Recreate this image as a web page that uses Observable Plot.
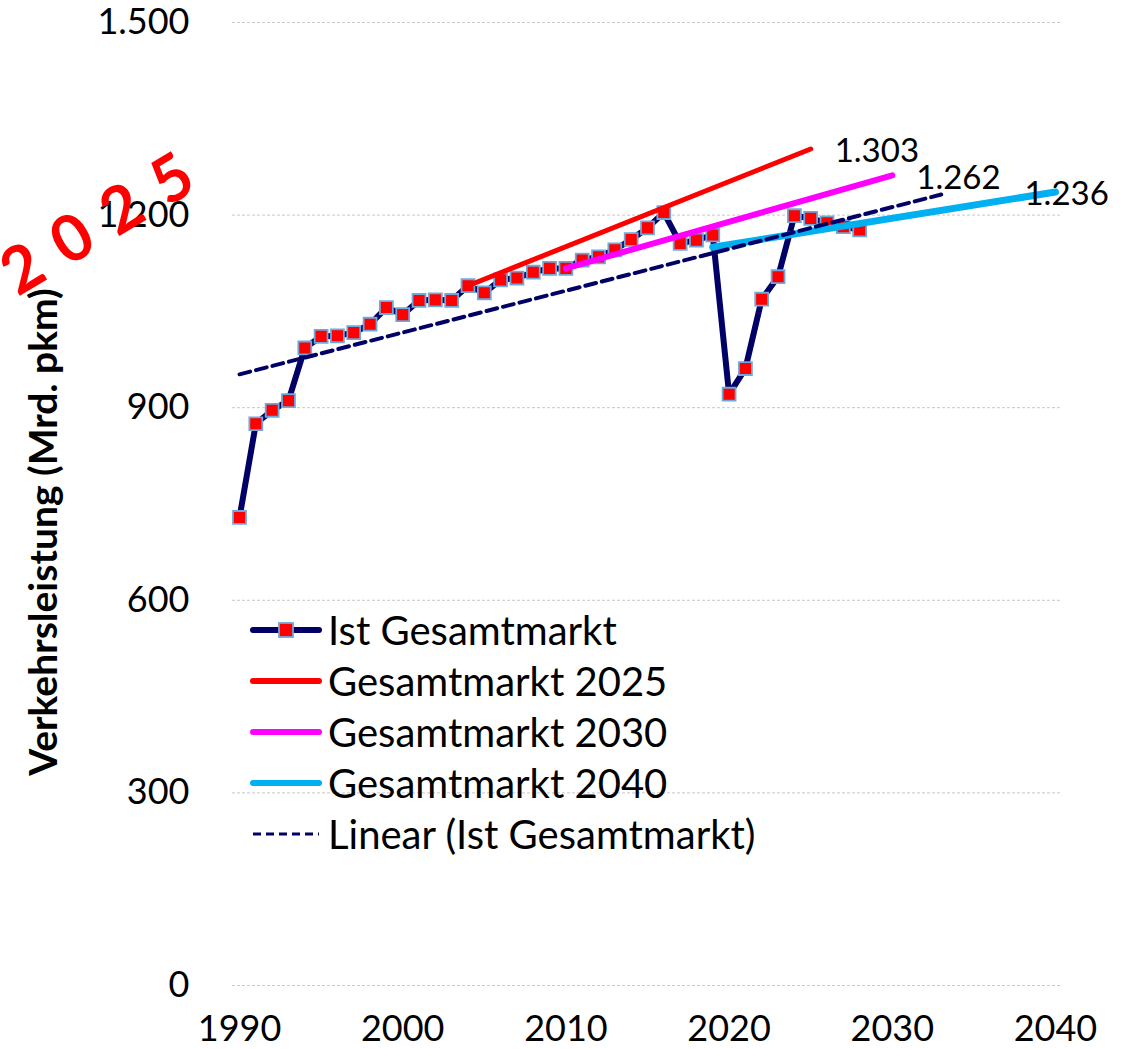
<!DOCTYPE html>
<html><head><meta charset="utf-8">
<script src="https://cdn.jsdelivr.net/npm/d3@7"></script>
<script src="https://cdn.jsdelivr.net/npm/@observablehq/plot@0.6"></script>
<style>
html,body{margin:0;padding:0;background:#fff;}
#wrap{position:relative;width:1138px;height:1049px;font-family:Lato,"Open Sans",sans-serif;color:#000;overflow:hidden;}
#wrap > svg{position:absolute;left:0;top:0;}
#ytitle{position:absolute;left:42px;top:532px;transform:translate(-50%,-50%) rotate(-90deg);white-space:nowrap;font-weight:700;font-size:39px;}
#stamp{position:absolute;left:96px;top:222px;transform:translate(-50%,-50%) rotate(-31deg);white-space:nowrap;font-weight:700;font-size:64px;color:#ff0000;letter-spacing:21px;text-indent:21px;line-height:1;}
#legend{position:absolute;left:250px;top:604px;}
.lrow{display:flex;align-items:center;height:51px;font-size:40px;white-space:nowrap;}
.lrow svg{display:block;margin-right:6px;}
</style></head><body><div id="wrap"></div>
<script>
// ---- data ----
const years = [1990,1991,1992,1993,1994,1995,1996,1997,1998,1999,2000,2001,2002,2003,2004,2005,2006,2007,2008,2009,2010,2011,2012,2013,2014,2015,2016,2017,2018,2019,2020,2021,2022,2023,2024,2025,2026,2027,2028];
const istValues = [729,875,896,911,993,1011,1012,1017,1030,1056,1045,1067,1068,1067,1090,1079,1099,1102,1111,1117,1117,1130,1135,1146,1162,1180,1204,1156,1161,1169,921,961,1069,1104,1199,1195,1188,1182,1177];
const forecast2025Years = [2004, 2025];
const forecast2025Values = [1090, 1303];
const forecast2030Years = [2010, 2030];
const forecast2030Values = [1117, 1262];
const forecast2040Years = [2019, 2040];
const forecast2040Values = [1150, 1236];
const trendYears = [1990, 2033];
const trendValues = [952, 1232];
const xTicks = [1990, 2000, 2010, 2020, 2030, 2040];
const yTicks = [0, 300, 600, 900, 1200, 1500];
const legendLabels = ["Ist Gesamtmarkt", "Gesamtmarkt 2025", "Gesamtmarkt 2030", "Gesamtmarkt 2040", "Linear (Ist Gesamtmarkt)"];
const yTitle = "Verkehrsleistung (Mrd. pkm)";
const stampText = "2025";

// ---- helpers ----
const de = d3.formatLocale({decimal: ",", thousands: ".", grouping: [3], currency: ["", " €"]});
const fmt = de.format(",");
const zip = (xs, ys) => xs.map((x, i) => ({x, y: ys[i]}));
const ist = zip(years, istValues);
const f25 = zip(forecast2025Years, forecast2025Values);
const f30 = zip(forecast2030Years, forecast2030Values);
const f40 = zip(forecast2040Years, forecast2040Values);
const trend = zip(trendYears, trendValues);
const end = a => [a[a.length - 1]];

const NAVY = "#000066", RED = "#ff0000", MAG = "#ff00ff", CYAN = "#00b0f0", MBORDER = "#6fa8dc";

const chart = Plot.plot({
  width: 1138, height: 1049,
  marginLeft: 232, marginRight: 76, marginTop: 22, marginBottom: 64,
  style: {fontFamily: "Lato, 'Open Sans', sans-serif", color: "#000", background: "transparent", overflow: "visible"},
  x: {domain: [1989.57, 2040.43]},
  y: {domain: [0, 1500]},
  marks: [
    Plot.gridY(yTicks, {stroke: "#c8c8c8", strokeOpacity: 1, strokeWidth: 1, strokeDasharray: "3,2"}),
    Plot.axisY({ticks: yTicks, tickSize: 0, tickPadding: 43, tickFormat: fmt, fontSize: 36, label: null}),
    Plot.axisX({ticks: xTicks, tickSize: 0, tickPadding: 30, tickFormat: d => String(d), fontSize: 36, label: null}),
    Plot.line(ist, {x: "x", y: "y", stroke: NAVY, strokeWidth: 6, strokeLinejoin: "round"}),
    Plot.dot(ist, {x: "x", y: "y", symbol: "square", r: 7.3, fill: RED, stroke: MBORDER, strokeWidth: 1.8}),
    Plot.line(f25, {x: "x", y: "y", stroke: RED, strokeWidth: 5, strokeLinecap: "round"}),
    Plot.line(f30, {x: "x", y: "y", stroke: MAG, strokeWidth: 6, strokeLinecap: "round"}),
    Plot.line(f40, {x: "x", y: "y", stroke: CYAN, strokeWidth: 7, strokeLinecap: "round"}),
    Plot.line(trend, {x: "x", y: "y", stroke: NAVY, strokeWidth: 4, strokeDasharray: "11,6"}),
    Plot.text(end(f25), {x: "x", y: "y", text: d => fmt(d.y), textAnchor: "start", dx: 24, dy: 2, fontSize: 33, fill: "#000"}),
    Plot.text(end(f30), {x: "x", y: "y", text: d => fmt(d.y), textAnchor: "start", dx: 24, dy: 3, fontSize: 33, fill: "#000"}),
    Plot.text(end(f40), {x: "x", y: "y", text: d => fmt(d.y), textAnchor: "start", dx: -31, dy: 2, fontSize: 33, fill: "#000"})
  ]
});

const wrap = document.getElementById("wrap");
wrap.appendChild(chart);

// y-axis title
const yt = document.createElement("div");
yt.id = "ytitle"; yt.textContent = yTitle; wrap.appendChild(yt);

// legend
const swatches = [
  `<svg width="72" height="20"><line x1="3" y1="10" x2="69" y2="10" stroke="${NAVY}" stroke-width="6" stroke-linecap="round"/><rect x="29" y="3" width="14" height="14" fill="${RED}" stroke="${MBORDER}" stroke-width="1.8"/></svg>`,
  `<svg width="72" height="20"><line x1="3" y1="10" x2="69" y2="10" stroke="${RED}" stroke-width="6" stroke-linecap="round"/></svg>`,
  `<svg width="72" height="20"><line x1="3" y1="10" x2="69" y2="10" stroke="${MAG}" stroke-width="6" stroke-linecap="round"/></svg>`,
  `<svg width="72" height="20"><line x1="3" y1="10" x2="69" y2="10" stroke="${CYAN}" stroke-width="6" stroke-linecap="round"/></svg>`,
  `<svg width="72" height="20"><line x1="3" y1="10" x2="69" y2="10" stroke="${NAVY}" stroke-width="3" stroke-dasharray="8,5"/></svg>`
];
const lg = document.createElement("div");
lg.id = "legend";
lg.innerHTML = legendLabels.map((t, i) => `<div class="lrow">${swatches[i]}<span>${t}</span></div>`).join("");
wrap.appendChild(lg);

// red stamp
const st = document.createElement("div");
st.id = "stamp"; st.textContent = stampText; wrap.appendChild(st);
</script>
</body></html>
